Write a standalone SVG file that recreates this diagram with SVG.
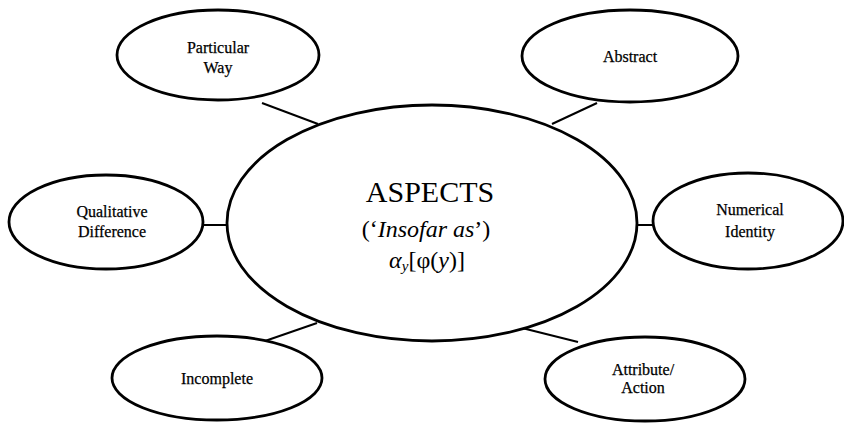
<svg xmlns="http://www.w3.org/2000/svg" width="844" height="426" viewBox="0 0 844 426">
  <style>
    .node { fill: #ffffff; stroke: #000000; stroke-width: 2.8; }
    .link { stroke: #000000; stroke-width: 2; fill: none; }
    text { font-family: "Liberation Serif", "DejaVu Serif", serif; fill: #000000; text-anchor: middle; }
    .label { font-size: 16px; stroke: #000000; stroke-width: 0.25; }
  </style>
  <rect width="844" height="426" fill="#ffffff"/>

  <!-- connectors between the hub and the surrounding nodes -->
  <g id="connectors">
    <line class="link" x1="262" y1="103" x2="318" y2="124"/>
    <line class="link" x1="597" y1="103" x2="552" y2="124"/>
    <line class="link" x1="203" y1="225" x2="228" y2="225"/>
    <line class="link" x1="636" y1="225" x2="653" y2="225"/>
    <line class="link" x1="265" y1="341" x2="317" y2="323"/>
    <line class="link" x1="522" y1="328" x2="578" y2="342"/>
  </g>

  <g id="aspects">
    <ellipse class="node" cx="432" cy="223" rx="205" ry="118"/>
    <text x="430" y="202" font-size="30" font-family="Liberation Serif, serif">ASPECTS</text>
    <text x="426" y="237" font-size="24" font-family="Liberation Serif, serif">(‘<tspan font-style="italic">Insofar as</tspan>’)</text>
    <text x="427" y="268" font-size="24" font-family="Liberation Serif, serif"><tspan font-style="italic">α</tspan><tspan font-style="italic" font-size="15" dy="3">y</tspan><tspan dy="-3">[φ(</tspan><tspan font-style="italic">y</tspan>)]</text>
  </g>

  <g id="particular-way">
    <ellipse class="node" cx="218" cy="55" rx="101" ry="45"/>
    <text class="label" x="218" y="53" font-family="Liberation Serif, serif">Particular</text>
    <text class="label" x="218" y="73" font-family="Liberation Serif, serif">Way</text>
  </g>

  <g id="abstract">
    <ellipse class="node" cx="630" cy="56" rx="108" ry="46"/>
    <text class="label" x="630" y="62" font-family="Liberation Serif, serif">Abstract</text>
  </g>

  <g id="qualitative-difference">
    <ellipse class="node" cx="106" cy="222" rx="97" ry="47"/>
    <text class="label" x="112" y="217" font-family="Liberation Serif, serif">Qualitative</text>
    <text class="label" x="112" y="237" font-family="Liberation Serif, serif">Difference</text>
  </g>

  <g id="numerical-identity">
    <ellipse class="node" cx="748" cy="221" rx="95" ry="48"/>
    <text class="label" x="750" y="215" font-family="Liberation Serif, serif">Numerical</text>
    <text class="label" x="750" y="237" font-family="Liberation Serif, serif">Identity</text>
  </g>

  <g id="incomplete">
    <ellipse class="node" cx="217" cy="378" rx="105" ry="42"/>
    <text class="label" x="217" y="384" font-family="Liberation Serif, serif">Incomplete</text>
  </g>

  <g id="attribute-action">
    <ellipse class="node" cx="645" cy="379" rx="100" ry="42"/>
    <text class="label" x="643" y="375" font-family="Liberation Serif, serif">Attribute/</text>
    <text class="label" x="643" y="393" font-family="Liberation Serif, serif">Action</text>
  </g>
</svg>
